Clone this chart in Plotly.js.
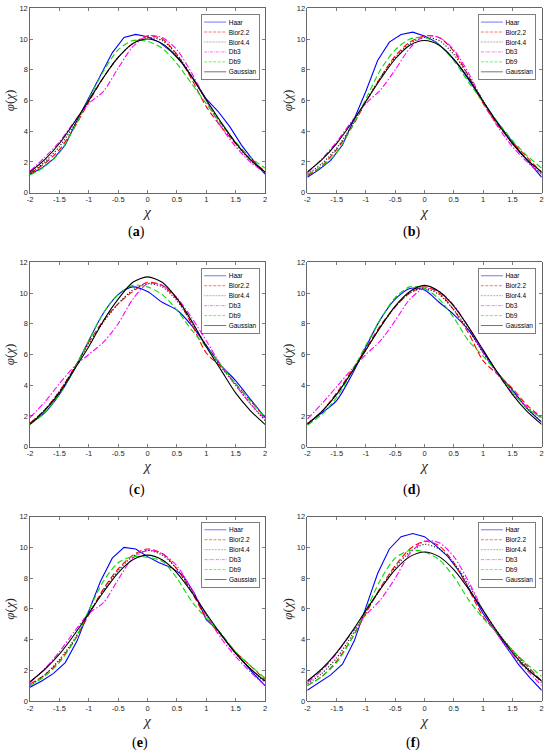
<!DOCTYPE html>
<html><head><meta charset="utf-8">
<script src="https://cdn.plot.ly/plotly-3.0.1.min.js"></script>
<style>html,body{margin:0;padding:0;background:#fff}#chart{width:550px;height:751px}</style>
</head><body><div id="chart"></div>
<script>
const seriesNames = ['Haar','Bior2.2','Bior4.4','Db3','Db9','Gaussian'];
const panelLabels = ['a','b','c','d','e','f'];
const xGrid = [-2,-1.75,-1.5,-1.25,-1,-0.75,-0.5,-0.25,0,0.25,0.5,0.75,1,1.25,1.5,1.75,2];
const xHaar = [-2,-1.8,-1.6,-1.4,-1.2,-1,-0.8,-0.6,-0.4,-0.2,0,0.2,0.4,0.6,0.8,1,1.2,1.4,1.6,1.8,2];
const xTickVals = [-2,-1.5,-1,-0.5,0,0.5,1,1.5,2];
const xTickText = ['-2','-1.5','-1','-0.5','0','0.5','1','1.5','2'];
const yTickVals = [0,2,4,6,8,10,12];
const yTickText = ['0','2','4','6','8','10','12'];

// (a)
const haar_a   = [1.2,1.6,2.2,3.1,4.7,6.2,7.7,9.1,10.1,10.3,10.15,9.8,9.2,8.4,7.3,6.1,5.3,4.3,3.1,2.1,1.2];
const bior22_a = [1.25,1.9,2.8,4.2,5.9,7.5,8.8,9.7,10.2,10.0,9.0,7.4,5.6,4.3,3.2,2.2,1.4];
const bior44_a = [1.25,2.0,3.0,4.4,6.0,7.5,8.8,9.7,10.1,9.9,9.0,7.6,6.0,4.5,3.2,2.1,1.3];
const db3_a    = [1.4,2.3,3.3,4.6,5.8,6.6,8.1,9.5,10.2,10.1,9.3,7.8,6.0,4.3,3.0,2.0,1.3];
const db9_a    = [1.15,1.7,2.6,4.2,6.1,7.9,9.3,9.9,9.85,9.4,8.4,7.1,5.8,4.5,3.3,2.3,1.6];
const gauss_a  = [1.35,2.15,3.2,4.55,6.0,7.5,8.8,9.7,10.0,9.7,8.85,7.55,6.05,4.6,3.25,2.15,1.35];
// (b)
const haar_b   = [1.0,1.5,2.1,3.1,4.8,6.6,8.6,9.8,10.3,10.45,10.2,9.8,9.1,8.2,7.1,5.9,4.8,3.8,2.8,1.9,1.0];
const bior22_b = [1.1,1.75,2.8,4.2,5.9,7.5,8.9,9.8,10.2,10.1,9.2,7.6,5.8,4.4,3.3,2.3,1.3];
const bior44_b = [1.2,1.9,2.9,4.3,5.95,7.5,8.8,9.7,10.1,9.9,9.0,7.6,6.0,4.5,3.2,2.1,1.2];
const db3_b    = [1.3,2.2,3.3,4.6,5.8,6.7,8.0,9.4,10.2,10.1,9.3,7.8,5.9,4.3,3.0,2.0,1.2];
const db9_b    = [1.2,1.7,2.6,4.2,6.1,8.0,9.3,10.0,10.1,9.6,8.6,7.2,5.9,4.6,3.4,2.4,1.6];
const gauss_b  = [1.35,2.15,3.2,4.5,5.95,7.4,8.7,9.6,9.9,9.6,8.7,7.45,5.95,4.5,3.2,2.15,1.35];
// (c)
const haar_c   = [1.5,2.2,3.4,5.0,6.9,8.7,9.9,10.4,10.1,9.4,8.9,7.9,6.6,5.3,4.3,3.1,1.9];
const bior22_c = [1.55,2.4,3.6,5.1,6.8,8.2,9.3,10.1,10.7,10.5,9.6,8.0,6.1,5.2,4.1,3.0,1.9];
const bior44_c = [1.5,2.4,3.6,5.1,6.7,8.1,9.3,10.2,10.6,10.4,9.5,8.1,6.6,5.2,4.0,2.8,1.7];
const db3_c    = [1.9,2.9,4.1,5.2,6.0,6.8,8.0,9.6,10.6,10.5,9.7,8.4,6.9,5.3,4.0,2.8,1.8];
const db9_c    = [1.45,2.2,3.4,5.0,6.9,8.7,9.9,10.5,10.4,9.9,8.9,7.6,6.5,5.3,4.1,3.0,1.9];
const gauss_c  = [1.45,2.35,3.5,5.0,6.5,8.2,9.6,10.7,11.05,10.7,9.65,8.2,6.5,5.0,3.5,2.35,1.45];
// (d)
const haar_d   = [1.5,2.2,3.0,4.6,6.5,8.3,9.6,10.3,10.2,9.4,8.6,7.6,6.2,4.8,3.7,2.5,1.6];
const bior22_d = [1.5,2.3,3.5,4.9,6.4,7.9,9.1,10.0,10.4,10.0,8.9,7.4,5.6,4.7,3.8,2.7,1.9];
const bior44_d = [1.5,2.3,3.4,4.8,6.3,7.8,9.1,10.0,10.3,9.9,8.9,7.6,6.1,4.8,3.6,2.5,1.6];
const db3_d    = [1.8,2.8,3.9,5.0,6.0,6.9,8.2,9.6,10.3,10.1,9.2,7.8,6.1,4.7,3.5,2.6,1.8];
const db9_d    = [1.4,2.1,3.2,4.8,6.6,8.3,9.7,10.4,10.3,9.6,8.4,6.9,5.9,4.8,3.6,2.5,1.9];
const gauss_d  = [1.45,2.3,3.4,4.8,6.3,7.8,9.15,10.1,10.5,10.1,9.15,7.8,6.3,4.8,3.4,2.3,1.45];
// (e)
const haar_e   = [0.9,1.3,1.8,2.5,3.9,5.8,7.8,9.3,10.0,9.9,9.4,9.0,8.7,8.2,7.0,5.3,4.6,3.6,2.7,1.8,1.0];
const bior22_e = [1.1,1.7,2.6,3.9,5.6,7.3,8.6,9.5,9.9,9.6,8.6,7.1,5.4,4.3,3.2,2.3,1.4];
const bior44_e = [1.0,1.7,2.7,4.0,5.7,7.2,8.5,9.4,9.8,9.5,8.6,7.2,5.6,4.3,3.1,2.1,1.2];
const db3_e    = [1.2,2.1,3.2,4.5,5.7,6.4,7.9,9.3,9.8,9.6,8.8,7.3,5.6,4.1,2.9,1.9,1.0];
const db9_e    = [1.0,1.6,2.5,3.9,5.9,7.8,9.0,9.4,9.35,9.1,8.0,6.5,5.4,4.4,3.2,2.3,1.5];
const gauss_e  = [1.25,2.05,3.05,4.3,5.7,7.1,8.35,9.2,9.5,9.2,8.35,7.1,5.7,4.35,3.1,2.1,1.3];
// (f)
const haar_f   = [0.7,1.2,1.7,2.4,3.9,6.1,8.3,9.9,10.7,10.9,10.7,10.1,9.4,8.4,7.0,5.7,4.6,3.5,2.4,1.5,0.7];
const bior22_f = [1.0,1.6,2.6,4.0,5.7,7.4,8.8,9.9,10.4,10.1,9.0,7.3,5.5,4.4,3.3,2.3,1.3];
const bior44_f = [1.1,1.8,2.8,4.2,5.8,7.3,8.7,9.7,10.2,9.9,9.0,7.6,5.9,4.5,3.3,2.2,1.2];
const db3_f    = [1.2,2.0,3.1,4.4,5.6,6.6,8.0,9.6,10.4,10.3,9.4,7.8,5.9,4.3,3.0,2.0,1.0];
const db9_f    = [1.0,1.6,2.5,4.0,5.9,7.9,9.3,9.8,9.7,9.2,8.1,6.6,5.4,4.4,3.3,2.4,1.6];
const gauss_f  = [1.3,2.1,3.15,4.45,5.9,7.3,8.55,9.4,9.7,9.4,8.55,7.3,5.9,4.45,3.15,2.1,1.3];

const panelData = [
  [haar_a,bior22_a,bior44_a,db3_a,db9_a,gauss_a],
  [haar_b,bior22_b,bior44_b,db3_b,db9_b,gauss_b],
  [haar_c,bior22_c,bior44_c,db3_c,db9_c,gauss_c],
  [haar_d,bior22_d,bior44_d,db3_d,db9_d,gauss_d],
  [haar_e,bior22_e,bior44_e,db3_e,db9_e,gauss_e],
  [haar_f,bior22_f,bior44_f,db3_f,db9_f,gauss_f]
];

const W = 550, H = 751;
const styles = [
  {color:'#0000ff', dash:'solid'},
  {color:'#ff0000', dash:'6px,3px'},
  {color:'#1a1a1a', dash:'1.2px,1.8px'},
  {color:'#ff00ff', dash:'6px,2px,1.5px,2px'},
  {color:'#00dd00', dash:'6px,3px'},
  {color:'#000000', dash:'solid'}
];
const colsPx = [[30,265],[307.3,541.7]];
const rowsPx = [[8.3,192.7],[262.3,446.7],[516.7,701]];
const legendPx = [[259,14],[535.7,14],[259,267.7],[535.7,267.7],[259.3,521.7],[535.7,521.7]];
const labelPx = [[136,232],[411,232],[137,490],[411.5,490],[140,742.5],[413,742.5]];

const traces = [];
const layout = {
  width: W, height: H,
  margin: {l:0, r:0, t:0, b:0},
  paper_bgcolor: '#fff', plot_bgcolor: '#fff',
  showlegend: true,
  annotations: []
};
const axisFont = {family:'Liberation Sans, Arial, sans-serif', size:7.5, color:'#262626'};

panelData.forEach((series, p) => {
  const n = p + 1;
  const sfx = n === 1 ? '' : String(n);
  const col = colsPx[p % 2], row = rowsPx[Math.floor(p / 2)];
  const legId = 'legend' + sfx;
  const smoothHaar = (p === 2 || p === 3);
  series.forEach((ys, s) => {
    const isHaar = s === 0;
    traces.push({
      type: 'scatter', mode: 'lines',
      x: isHaar && !smoothHaar ? xHaar : xGrid,
      y: ys,
      name: seriesNames[s],
      xaxis: 'x' + sfx, yaxis: 'y' + sfx,
      legend: legId,
      line: {color: styles[s].color, dash: styles[s].dash, width: 1.1,
             shape: (isHaar && !smoothHaar) ? 'linear' : 'spline', smoothing: 0.8},
      hoverinfo: 'skip'
    });
  });
  layout['xaxis' + sfx] = {
    domain: [col[0] / W, col[1] / W], anchor: 'y' + sfx,
    range: [-2, 2], tickvals: xTickVals, ticktext: xTickText,
    ticks: 'inside', ticklen: 3, tickwidth: 0.6, tickcolor: '#262626',
    showline: true, linecolor: '#262626', linewidth: 0.7, mirror: 'ticks',
    showgrid: false, zeroline: false, tickfont: axisFont,
    title: {text: '<i>χ</i>', font: {family: 'Liberation Serif, serif', size: 15, color: '#262626'}, standoff: 1}
  };
  layout['yaxis' + sfx] = {
    domain: [1 - row[1] / H, 1 - row[0] / H], anchor: 'x' + sfx,
    range: [0, 12], tickvals: yTickVals, ticktext: yTickText,
    ticks: 'inside', ticklen: 3, tickwidth: 0.6, tickcolor: '#262626',
    showline: true, linecolor: '#262626', linewidth: 0.7, mirror: 'ticks',
    showgrid: false, zeroline: false, tickfont: axisFont,
    title: {text: '<i>φ</i>(<i>χ</i>)', font: {family: 'Liberation Serif, serif', size: 13, color: '#262626'}, standoff: 1}
  };
  layout[legId] = {
    x: legendPx[p][0] / W, y: 1 - legendPx[p][1] / H, xanchor: 'right', yanchor: 'top',
    bgcolor: '#ffffff', bordercolor: '#262626', borderwidth: 1.2,
    font: {family: 'Liberation Sans, Arial, sans-serif', size: 13, color: '#000'},
    itemwidth: 44, tracegroupgap: 0, itemclick: false, itemdoubleclick: false
  };
  layout.annotations.push({
    xref: 'paper', yref: 'paper', x: labelPx[p][0] / W, y: 1 - labelPx[p][1] / H,
    xanchor: 'center', yanchor: 'middle', showarrow: false,
    text: '(<b>' + panelLabels[p] + '</b>)',
    font: {family: 'Liberation Serif, serif', size: 14, color: '#000'}
  });
});

const gd = document.getElementById('chart');
function compactLegends() {
  panelData.forEach((_, p) => {
    const cls = p === 0 ? 'legend' : 'legend' + (p + 1);
    const g = gd.querySelector('g.' + cls);
    if (!g) return;
    const bg = g.querySelector('rect.bg');
    const w = bg ? parseFloat(bg.getAttribute('width')) : 0;
    const sc = 0.5;
    const X = legendPx[p][0] - w * sc, Y = legendPx[p][1];
    g.setAttribute('transform', 'translate(' + X + ',' + Y + ') scale(' + sc + ')');
  });
}
Plotly.newPlot(gd, traces, layout, {staticPlot: true, displayModeBar: false}).then(() => {
  compactLegends();
  gd.on && gd.on('plotly_afterplot', compactLegends);
});
</script>
</body></html>
